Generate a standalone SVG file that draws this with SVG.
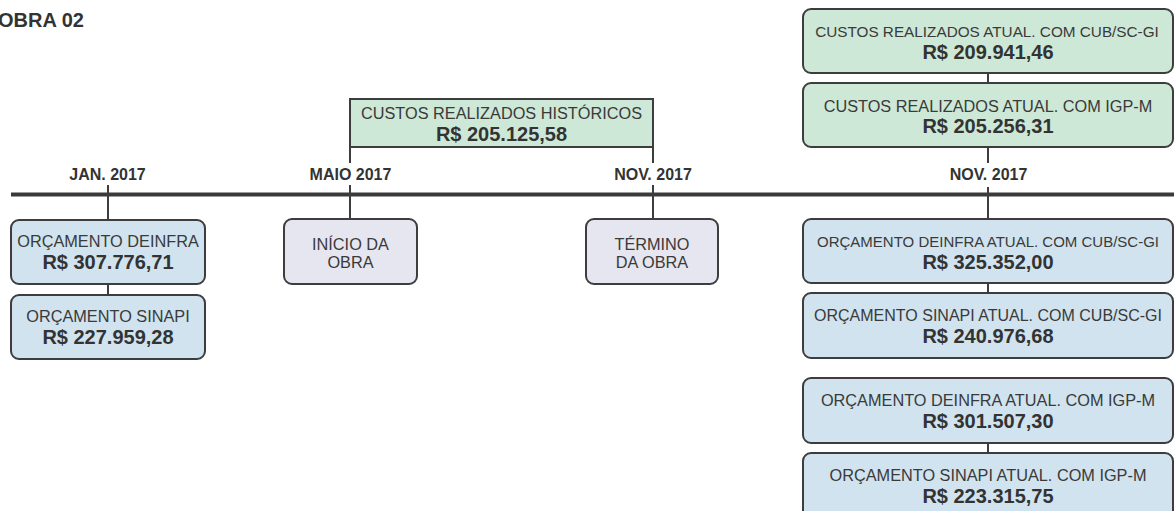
<svg xmlns="http://www.w3.org/2000/svg" width="1174" height="511" viewBox="0 0 1174 511">
<style>
.bx{stroke:#3d3d3d;stroke-width:2}
.blue{fill:#d0e3ee}
.green{fill:#cde8d6}
.lav{fill:#e6e6f0}
.t{font-family:"Liberation Sans",Arial,sans-serif;font-size:16.3px;fill:#3a3a3a;text-anchor:middle}
.v{font-family:"Liberation Sans",Arial,sans-serif;font-size:20px;font-weight:bold;fill:#333;text-anchor:middle}
.d{font-family:"Liberation Sans",Arial,sans-serif;font-size:16px;font-weight:bold;fill:#333;text-anchor:middle}
.ln{stroke:#3d3d3d;stroke-width:2;fill:none}
</style>
<rect width="1174" height="511" fill="#ffffff"/>
<text x="-2" y="27" font-family="Liberation Sans,Arial,sans-serif" font-size="20" font-weight="bold" fill="#333">OBRA 02</text>
<g id="connectors">
<line x1="11" y1="194.5" x2="1174" y2="194.5" stroke="#3a3a3a" stroke-width="4"/>
<line class="ln" x1="108" y1="185" x2="108" y2="295"/>
<line class="ln" x1="350" y1="147" x2="350" y2="163"/>
<line class="ln" x1="350" y1="185" x2="350" y2="220"/>
<line class="ln" x1="653" y1="147" x2="653" y2="163"/>
<line class="ln" x1="653" y1="185" x2="653" y2="220"/>
<line class="ln" x1="988" y1="73" x2="988" y2="83"/>
<line class="ln" x1="988" y1="147" x2="988" y2="163"/>
<line class="ln" x1="988" y1="187" x2="988" y2="293"/>
<line class="ln" x1="988" y1="443" x2="988" y2="453"/>
</g>
<g id="labels">
<text class="d" x="107.5" y="180">JAN. 2017</text>
<text class="d" x="350.5" y="180">MAIO 2017</text>
<text class="d" x="653" y="180">NOV. 2017</text>
<text class="d" x="988.5" y="180">NOV. 2017</text>
</g>
<g id="orc-deinfra">
<rect class="bx blue" x="11" y="220" width="194" height="64" rx="8"/>
<text class="t" x="108" y="247">ORÇAMENTO DEINFRA</text>
<text class="v" x="108" y="269">R$ 307.776,71</text>
</g>
<g id="orc-sinapi">
<rect class="bx blue" x="11" y="295" width="194" height="64" rx="8"/>
<text class="t" x="108" y="322">ORÇAMENTO SINAPI</text>
<text class="v" x="108" y="344">R$ 227.959,28</text>
</g>
<g id="inicio">
<rect class="bx lav" x="284" y="219" width="133" height="65" rx="8"/>
<text class="t" x="350.5" y="250">INÍCIO DA</text>
<text class="t" x="350.5" y="268">OBRA</text>
</g>
<g id="termino">
<rect class="bx lav" x="586" y="219" width="132" height="65" rx="8"/>
<text class="t" x="652" y="250">TÉRMINO</text>
<text class="t" x="652" y="268">DA OBRA</text>
</g>
<g id="custos-historicos">
<rect class="bx green" x="350" y="99" width="303" height="48"/>
<text class="t" x="501.5" y="119">CUSTOS REALIZADOS HISTÓRICOS</text>
<text class="v" x="501.5" y="141">R$ 205.125,58</text>
</g>
<g id="custos-cub">
<rect class="bx green" x="803" y="9" width="370" height="64" rx="8"/>
<text class="t" x="987" y="36.5" style="font-size:15.3px">CUSTOS REALIZADOS ATUAL. COM CUB/SC-GI</text>
<text class="v" x="988" y="59">R$ 209.941,46</text>
</g>
<g id="custos-igpm">
<rect class="bx green" x="803" y="83" width="370" height="64" rx="8"/>
<text class="t" x="988" y="111.5">CUSTOS REALIZADOS ATUAL. COM IGP-M</text>
<text class="v" x="988" y="133">R$ 205.256,31</text>
</g>
<g id="orc-deinfra-cub">
<rect class="bx blue" x="803" y="219" width="370" height="64" rx="8"/>
<text class="t" x="988" y="247" style="font-size:15px">ORÇAMENTO DEINFRA ATUAL. COM CUB/SC-GI</text>
<text class="v" x="988" y="269">R$ 325.352,00</text>
</g>
<g id="orc-sinapi-cub">
<rect class="bx blue" x="803" y="293" width="370" height="65" rx="8"/>
<text class="t" x="988" y="321" style="font-size:16px">ORÇAMENTO SINAPI ATUAL. COM CUB/SC-GI</text>
<text class="v" x="988" y="343">R$ 240.976,68</text>
</g>
<g id="orc-deinfra-igpm">
<rect class="bx blue" x="803" y="378" width="370" height="65" rx="8"/>
<text class="t" x="988" y="406">ORÇAMENTO DEINFRA ATUAL. COM IGP-M</text>
<text class="v" x="988" y="428">R$ 301.507,30</text>
</g>
<g id="orc-sinapi-igpm">
<rect class="bx blue" x="803" y="453" width="370" height="66" rx="8"/>
<text class="t" x="988" y="481">ORÇAMENTO SINAPI ATUAL. COM IGP-M</text>
<text class="v" x="988" y="503">R$ 223.315,75</text>
</g>
</svg>
